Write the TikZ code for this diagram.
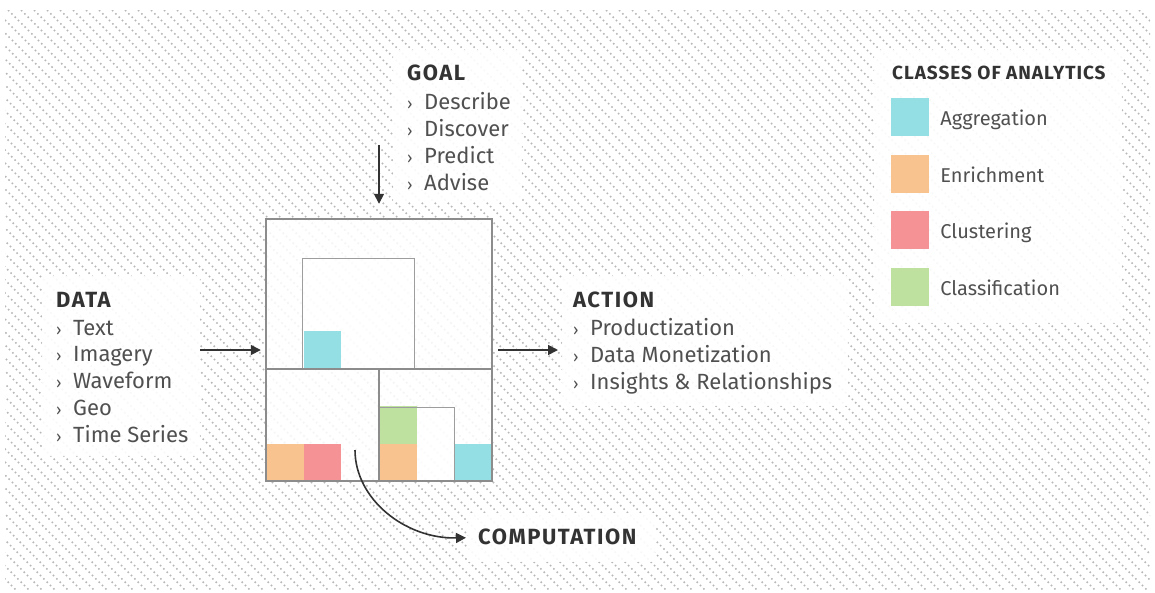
\documentclass[tikz,border=0pt]{standalone}
\usepackage{fontspec}
\setmainfont{Fira Sans}
\usetikzlibrary{arrows.meta,positioning}

\definecolor{aggcol}{HTML}{93DFE3}
\definecolor{enrcol}{HTML}{F8C38E}
\definecolor{clucol}{HTML}{F59296}
\definecolor{clscol}{HTML}{BFE19F}
\definecolor{ink}{HTML}{333333}
\definecolor{softink}{HTML}{505050}
\definecolor{hatchcol}{HTML}{B8B8B8}
\definecolor{framecol}{HTML}{8C8C8C}

\newcommand{\itm}{\makebox[17pt][l]{\fontsize{16}{16}\selectfont ›}}
\newcommand{\hd}[1]{\textcolor{ink}{\bfseries\addfontfeature{LetterSpace=7}#1}}

\tikzset{
  hatch/.style={hatchcol, line width=1.5pt, dash pattern=on 1.6pt off 3.1pt},
  panel/.style={fill=white, fill opacity=0.9, inner sep=0pt, anchor=north west},
  block/.style={anchor=base west, align=left, inner sep=0pt, text=softink,
    font=\fontsize{22}{26.7}\selectfont},
  head/.style={text=ink, font=\fontsize{22}{26.7}\selectfont\bfseries\addfontfeature{LetterSpace=7}},
  arr/.style={ink, line width=1.6pt, -{Triangle[length=10pt,width=10pt]}},
  swatch/.style={minimum size=38pt, inner sep=0pt},
  legtext/.style={right=11pt of #1, yshift=-3pt, inner sep=0pt, text=softink,
    font=\fontsize{20}{24}\selectfont, text height=14pt, text depth=4pt},
}

\begin{document}
\begin{tikzpicture}[x=1pt,y=-1pt]
    \useasboundingbox (0,0) rectangle (1155,592);

    % hatched background
    \begin{scope}
        \clip (5,10) rectangle (1150,590);
        \foreach \i in {-590,-577,...,1150}
            \draw[hatch] (\i,10) -- ++(590,590);
    \end{scope}

    % white panels behind the texts
    \node[panel, minimum width=129pt, minimum height=152pt] (goalbox) at (393,50) {};
    \node[panel, minimum width=158pt, minimum height=180pt] (databox) at (42,276) {};
    \node[panel, minimum width=286pt, minimum height=130pt] (actionbox) at (562,276) {};
    \node[panel, minimum width=187pt, minimum height=49pt] (compbox) at (468,513) {};
    \node[panel, minimum width=248pt, minimum height=273pt] (legendbox) at (874,50) {};

    % the model
    \node[fill=white, fill opacity=0.85, minimum width=226pt, minimum height=262pt,
          inner sep=0pt] (model) at (379,350) {};
    \fill[white, fill opacity=0.6] (302,258) rectangle (414,369);
    \fill[white, fill opacity=0.6] (379,407) rectangle (454,481);
    \foreach \c/\r/\col in {1/3/aggcol, 0/6/enrcol, 1/6/clucol, 3/5/clscol, 3/6/enrcol, 5/6/aggcol}
        \fill[\col] ({266+37.67*\c},{219+37.43*\r}) rectangle ++(37.67,37.43);
    \draw[framecol!85, line width=1pt] (302,258) rectangle (414,369);
    \draw[framecol!85, line width=1pt] (379,481) |- (454,407) -- (454,481);
    \draw[framecol, line width=1.3pt] (model.west |- 0,369) -- (model.east |- 0,369);
    \draw[framecol, line width=1.3pt] (379,369) -- (379,481);
    \draw[framecol, line width=1.6pt] (model.north west) rectangle (model.south east);

    % texts (base = last line)
    \node[block] (goal) at (407,190) {\hd{GOAL}\\[2.5pt]
        \itm Describe\\ \itm Discover\\ \itm Predict\\ \itm Advise};
    \node[block] (data) at (56,442) {\hd{DATA}\\[1.5pt]
        \itm Text\\ \itm Imagery\\ \itm Waveform\\ \itm Geo\\ \itm Time Series};
    \node[block] (action) at (573,389) {\hd{ACTION}\\[1.5pt]
        \itm Productization\\ \itm Data Monetization\\ \itm Insights \& Relationships};
    \node[block, head] (comp) at (478,544) {COMPUTATION};

    % legend
    \node[block, text=ink, font=\fontsize{19}{24}\selectfont\bfseries\addfontfeature{LetterSpace=5}]
        (legtitle) at (892,79) {CLASSES OF ANALYTICS};
    \node[swatch, fill=aggcol] (agg) at (910,117) {};
    \node[swatch, fill=enrcol] (enr) at (910,174) {};
    \node[swatch, fill=clucol] (clu) at (910,230) {};
    \node[swatch, fill=clscol] (cls) at (910,287) {};
    \node[legtext=agg] (aggtext) {Aggregation};
    \node[legtext=enr] (enrtext) {Enrichment};
    \node[legtext=clu] (clutext) {Clustering};
    \node[legtext=cls] (clstext) {Classification};

    % arrows
    \coordinate (goalin) at (379,145);
    \coordinate (compout) at (355,450);
    \draw[arr, shorten >=15pt] (goalin) -- (model.north);
    \draw[arr, shorten >=5pt] (databox.east |- model.west) -- (model.west);
    \draw[arr, shorten <=6pt, shorten >=4pt] (model.east) -- (actionbox.west |- model.east);
    \draw[arr, shorten >=2pt] (compout) .. controls (355,499) and (405,539) .. (compbox.west);
\end{tikzpicture}
\end{document}
